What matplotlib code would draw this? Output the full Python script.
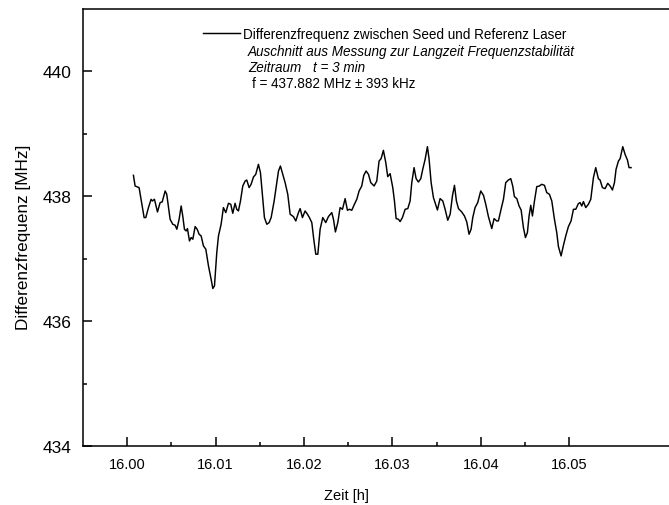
import matplotlib
matplotlib.use("Agg")
import matplotlib.pyplot as plt
from matplotlib.ticker import FixedLocator, FormatStrFormatter

plt.rcParams['font.family'] = ['Liberation Sans', 'DejaVu Sans']

# Zeit [h] und Differenzfrequenz [MHz]
zeit = [16.00071, 16.00090, 16.00135, 16.00166, 16.00192, 16.00211, 16.00241, 16.00271,
        16.00286, 16.00309, 16.00343, 16.00373, 16.00396, 16.00430, 16.00448, 16.00486,
        16.00516, 16.00543, 16.00562, 16.00588, 16.00611, 16.00629, 16.00648, 16.00667,
        16.00682, 16.00705, 16.00724, 16.00743, 16.00769, 16.00792, 16.00814, 16.00837,
        16.00863, 16.00890, 16.00920, 16.00950, 16.00969, 16.00988, 16.01014, 16.01033,
        16.01063, 16.01089, 16.01116, 16.01146, 16.01172, 16.01195, 16.01221, 16.01240,
        16.01259, 16.01282, 16.01308, 16.01335, 16.01353, 16.01380, 16.01402, 16.01429,
        16.01455, 16.01485, 16.01508, 16.01531, 16.01553, 16.01580, 16.01606, 16.01629,
        16.01663, 16.01685, 16.01712, 16.01734, 16.01761, 16.01787, 16.01817, 16.01844,
        16.01881, 16.01908, 16.01938, 16.01957, 16.01983, 16.02013, 16.02040, 16.02062,
        16.02089, 16.02111, 16.02134, 16.02157, 16.02183, 16.02213, 16.02247, 16.02277,
        16.02315, 16.02334, 16.02356, 16.02383, 16.02409, 16.02436, 16.02466, 16.02492,
        16.02515, 16.02541, 16.02571, 16.02598, 16.02624, 16.02654, 16.02677, 16.02703,
        16.02730, 16.02756, 16.02794, 16.02824, 16.02850, 16.02873, 16.02899, 16.02926,
        16.02948, 16.02975, 16.03005, 16.03024, 16.03043, 16.03069, 16.03088, 16.03114,
        16.03145, 16.03175, 16.03201, 16.03220, 16.03246, 16.03269, 16.03295, 16.03322,
        16.03344, 16.03371, 16.03397, 16.03416, 16.03439, 16.03465, 16.03510, 16.03540,
        16.03571, 16.03597, 16.03627, 16.03654, 16.03680, 16.03703, 16.03725, 16.03748,
        16.03785, 16.03816, 16.03842, 16.03868, 16.03891, 16.03910, 16.03936, 16.03966,
        16.04000, 16.04031, 16.04057, 16.04087, 16.04125, 16.04151, 16.04181, 16.04200,
        16.04230, 16.04257, 16.04283, 16.04313, 16.04340, 16.04362, 16.04381, 16.04408,
        16.04434, 16.04457, 16.04483, 16.04506, 16.04528, 16.04547, 16.04566, 16.04585,
        16.04608, 16.04634, 16.04664, 16.04690, 16.04721, 16.04747, 16.04777, 16.04804,
        16.04834, 16.04860, 16.04879, 16.04909, 16.04936, 16.04962, 16.04992, 16.05022,
        16.05049, 16.05075, 16.05105, 16.05124, 16.05143, 16.05162, 16.05188, 16.05218,
        16.05245, 16.05275, 16.05301, 16.05331, 16.05350, 16.05377, 16.05407, 16.05437,
        16.05464, 16.05490, 16.05513, 16.05531, 16.05558, 16.05577, 16.05607, 16.05633,
        16.05660, 16.05678, 16.05701]
frequenz = [438.336, 438.165, 438.139, 437.872, 437.659, 437.659, 437.819, 437.952,
            437.925, 437.952, 437.749, 437.899, 437.909, 438.085, 438.032, 437.632,
            437.552, 437.536, 437.472, 437.632, 437.845, 437.685, 437.472, 437.445,
            437.483, 437.285, 437.339, 437.312, 437.515, 437.472, 437.392, 437.365,
            437.205, 437.152, 436.885, 436.672, 436.523, 436.565, 437.099, 437.365,
            437.552, 437.819, 437.739, 437.888, 437.872, 437.728, 437.888, 437.792,
            437.765, 437.925, 438.165, 438.245, 438.261, 438.139, 438.192, 438.309,
            438.352, 438.512, 438.379, 438.005, 437.659, 437.552, 437.579, 437.659,
            437.925, 438.139, 438.405, 438.485, 438.352, 438.219, 438.032, 437.712,
            437.675, 437.605, 437.739, 437.803, 437.659, 437.765, 437.712, 437.659,
            437.579, 437.312, 437.072, 437.072, 437.472, 437.659, 437.579, 437.675,
            437.739, 437.632, 437.429, 437.579, 437.819, 437.792, 437.963, 437.776,
            437.792, 437.776, 437.872, 437.952, 438.085, 438.165, 438.336, 438.405,
            438.352, 438.219, 438.165, 438.245, 438.565, 438.603, 438.736, 438.539,
            438.315, 438.363, 438.139, 437.925, 437.643, 437.632, 437.595, 437.659,
            437.792, 437.803, 437.925, 438.219, 438.459, 438.283, 438.229, 438.283,
            438.432, 438.592, 438.795, 438.592, 438.219, 437.979, 437.781, 437.963,
            437.925, 437.792, 437.616, 437.712, 438.005, 438.176, 437.925, 437.803,
            437.749, 437.685, 437.589, 437.392, 437.472, 437.659, 437.819, 437.899,
            438.085, 438.016, 437.872, 437.675, 437.483, 437.643, 437.605, 437.605,
            437.792, 437.952, 438.219, 438.261, 438.283, 438.165, 437.995, 437.963,
            437.845, 437.781, 437.499, 437.339, 437.419, 437.685, 437.856, 437.685,
            437.925, 438.155, 438.165, 438.192, 438.176, 438.059, 438.032, 437.925,
            437.632, 437.419, 437.195, 437.045, 437.216, 437.365, 437.515, 437.605,
            437.792, 437.792, 437.883, 437.899, 437.845, 437.915, 437.819, 437.872,
            437.952, 438.299, 438.459, 438.283, 438.261, 438.139, 438.123, 438.208,
            438.165, 438.101, 438.219, 438.432, 438.565, 438.603, 438.795, 438.672,
            438.581, 438.459, 438.459]

x_ticks = [16.00, 16.01, 16.02, 16.03, 16.04, 16.05]
x_minor = [16.005, 16.015, 16.025, 16.035, 16.045]
y_ticks = [434, 436, 438, 440]
y_minor = [435, 437, 439]

fig = plt.figure(figsize=(6.69, 5.06), dpi=100)
ax = fig.add_axes([0.124, 0.1166, 0.876, 0.8636])

ax.plot(zeit, frequenz, color='black', lw=1.05,
        label='Differenzfrequenz zwischen Seed und Referenz Laser')

ax.set_xlim(15.995, 16.0613)
ax.set_ylim(434, 441)
ax.set_xticks(x_ticks)
ax.set_yticks(y_ticks)
ax.xaxis.set_major_formatter(FormatStrFormatter('%.2f'))
ax.xaxis.set_minor_locator(FixedLocator(x_minor))
ax.yaxis.set_minor_locator(FixedLocator(y_minor))
ax.tick_params(which='both', direction='in', width=1.1, pad=8)
ax.tick_params(axis='x', labelsize=10.5)
ax.tick_params(axis='y', labelsize=12.5)
ax.tick_params(which='major', length=6.5)
ax.tick_params(which='minor', length=3)
ax.tick_params(top=False, right=False, which='both')

for s in ['left', 'bottom', 'top']:
    ax.spines[s].set_linewidth(1.1)
ax.spines['right'].set_visible(False)

ax.set_xlabel('Zeit [h]', fontsize=10.5)
ax.set_ylabel('Differenzfrequenz [MHz]', fontsize=12.3)
ax.xaxis.set_label_coords(0.45, -0.095)
ax.yaxis.set_label_coords(-0.088, 0.48)

ax.legend(loc='center left', bbox_to_anchor=(203 / 669, 1 - 35 / 506),
          bbox_transform=fig.transFigure, frameon=False, fontsize=9.75,
          handlelength=2.74, handletextpad=0.22, borderaxespad=0, borderpad=0)

fs = 9.75
fig.text(248 / 669, 1 - 52 / 506, 'Auschnitt aus Messung zur Langzeit Frequenzstabilität',
         fontsize=fs, style='italic', va='center')
fig.text(248 / 669, 1 - 68 / 506, 'Zeitraum', fontsize=fs, style='italic', va='center')
fig.text(313 / 669, 1 - 68 / 506, 't = 3 min', fontsize=fs, style='italic', va='center')
fig.text(252 / 669, 1 - 84 / 506, 'f = 437.882 MHz ± 393 kHz', fontsize=fs, va='center')

fig.savefig('out.png', dpi=100)
